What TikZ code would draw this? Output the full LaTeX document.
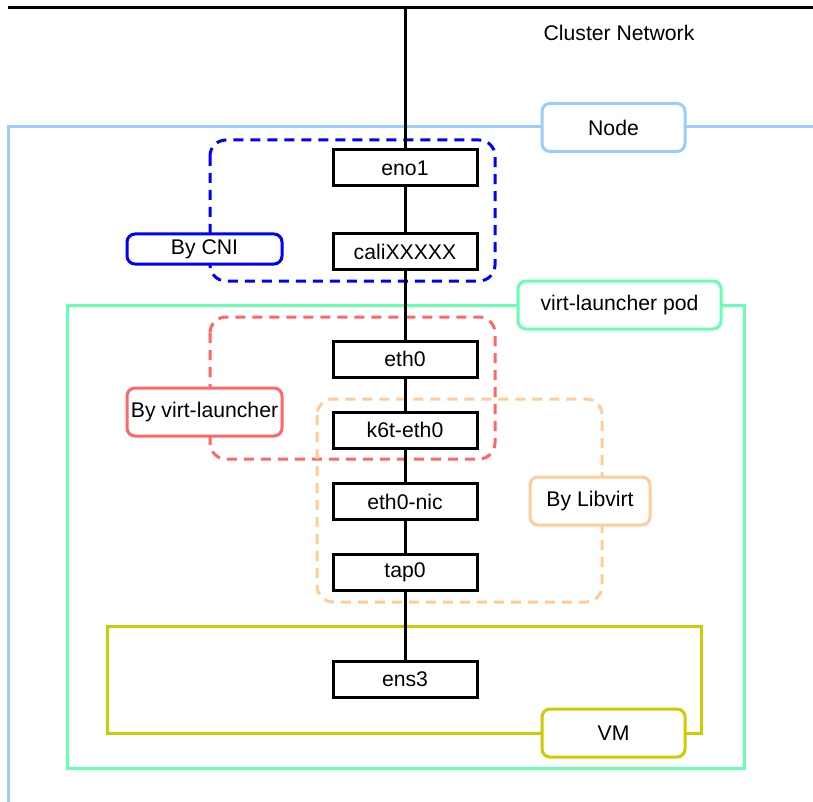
\documentclass[tikz,border=0pt]{standalone}
\usepackage{fontspec}
\setmainfont{Liberation Sans}
\definecolor{nodeblue}{HTML}{99CCFF}
\definecolor{cniblue}{HTML}{0000FF}
\definecolor{podgreen}{HTML}{66FFB3}
\definecolor{vlred}{HTML}{FF6666}
\definecolor{lvorange}{HTML}{FFCC99}
\definecolor{vmolive}{HTML}{CCCC00}
\begin{document}
\begin{tikzpicture}[x=1pt,y=-1pt,
  font=\fontsize{21.2}{25}\selectfont,
  iface/.style={draw=black, line width=3pt, fill=white,
    minimum width=144pt, minimum height=36pt, inner sep=0pt},
  tag/.style={draw=#1, line width=3pt, fill=white, rounded corners=8pt, inner sep=0pt},
  group/.style={draw=#1, line width=3pt, dash pattern=on 10pt off 7pt, rounded corners=16pt},
  frame/.style={draw=#1, line width=3pt},
  wire/.style={draw=black, line width=3pt}]
\useasboundingbox (0,0) rectangle (813,802);
\clip (0,0) rectangle (813,802);

% enclosing frames
\draw[frame=nodeblue] (8,127) rectangle (830,806);
\draw[frame=podgreen] (67,305) rectangle (744,768);
\draw[frame=vmolive] (107,626) rectangle (701,733);

% who creates which interfaces
\draw[group=cniblue] (210,140) rectangle (495,281);
\draw[group=vlred] (210,317) rectangle (495,459);
\draw[group=lvorange] (317,399) rectangle (602,602);

% cluster network bus
\coordinate (busL) at (8,8);
\coordinate (busR) at (820,8);
\coordinate (tapin) at (405,8);
\draw[wire] (busL) -- (busR);
\node (netlabel) at (619,33) {Cluster Network};

% interface chain
\node[iface] (eno1) at (405,168) {eno1};
\node[iface] (cali) at (405,251.5) {caliXXXXX};
\node[iface] (eth0) at (405,359) {eth0};
\node[iface] (k6t) at (405,430) {k6t-eth0};
\node[iface] (nic) at (405,501.5) {eth0-nic};
\node[iface] (tap) at (405,572.5) {tap0};
\node[iface] (ens3) at (405,679) {ens3};

\draw[wire] (tapin) -- (eno1.north);
\draw[wire] (eno1.south) -- (cali.north);
\draw[wire] (cali.south) -- (eth0.north);
\draw[wire] (eth0.south) -- (k6t.north);
\draw[wire] (k6t.south) -- (nic.north);
\draw[wire] (nic.south) -- (tap.north);
\draw[wire] (tap.south) -- (ens3.north);

% frame and group labels
\node[tag=nodeblue, minimum width=143pt, minimum height=48pt] (nodetag) at (613.5,127.5) {Node};
\node[tag=podgreen, minimum width=203pt, minimum height=48pt] (podtag) at (619.5,305) {virt-launcher pod};
\node[tag=vmolive, minimum width=143pt, minimum height=48pt] (vmtag) at (613.5,733) {VM};
\node[tag=cniblue, minimum width=155pt, minimum height=30pt] (cnitag) at (204.5,249) {By CNI};
\node[tag=vlred, minimum width=155pt, minimum height=48pt] (vltag) at (204.5,412) {By virt-launcher};
\node[tag=lvorange, minimum width=120pt, minimum height=48pt] (lvtag) at (590,501) {By Libvirt};
\end{tikzpicture}
\end{document}
